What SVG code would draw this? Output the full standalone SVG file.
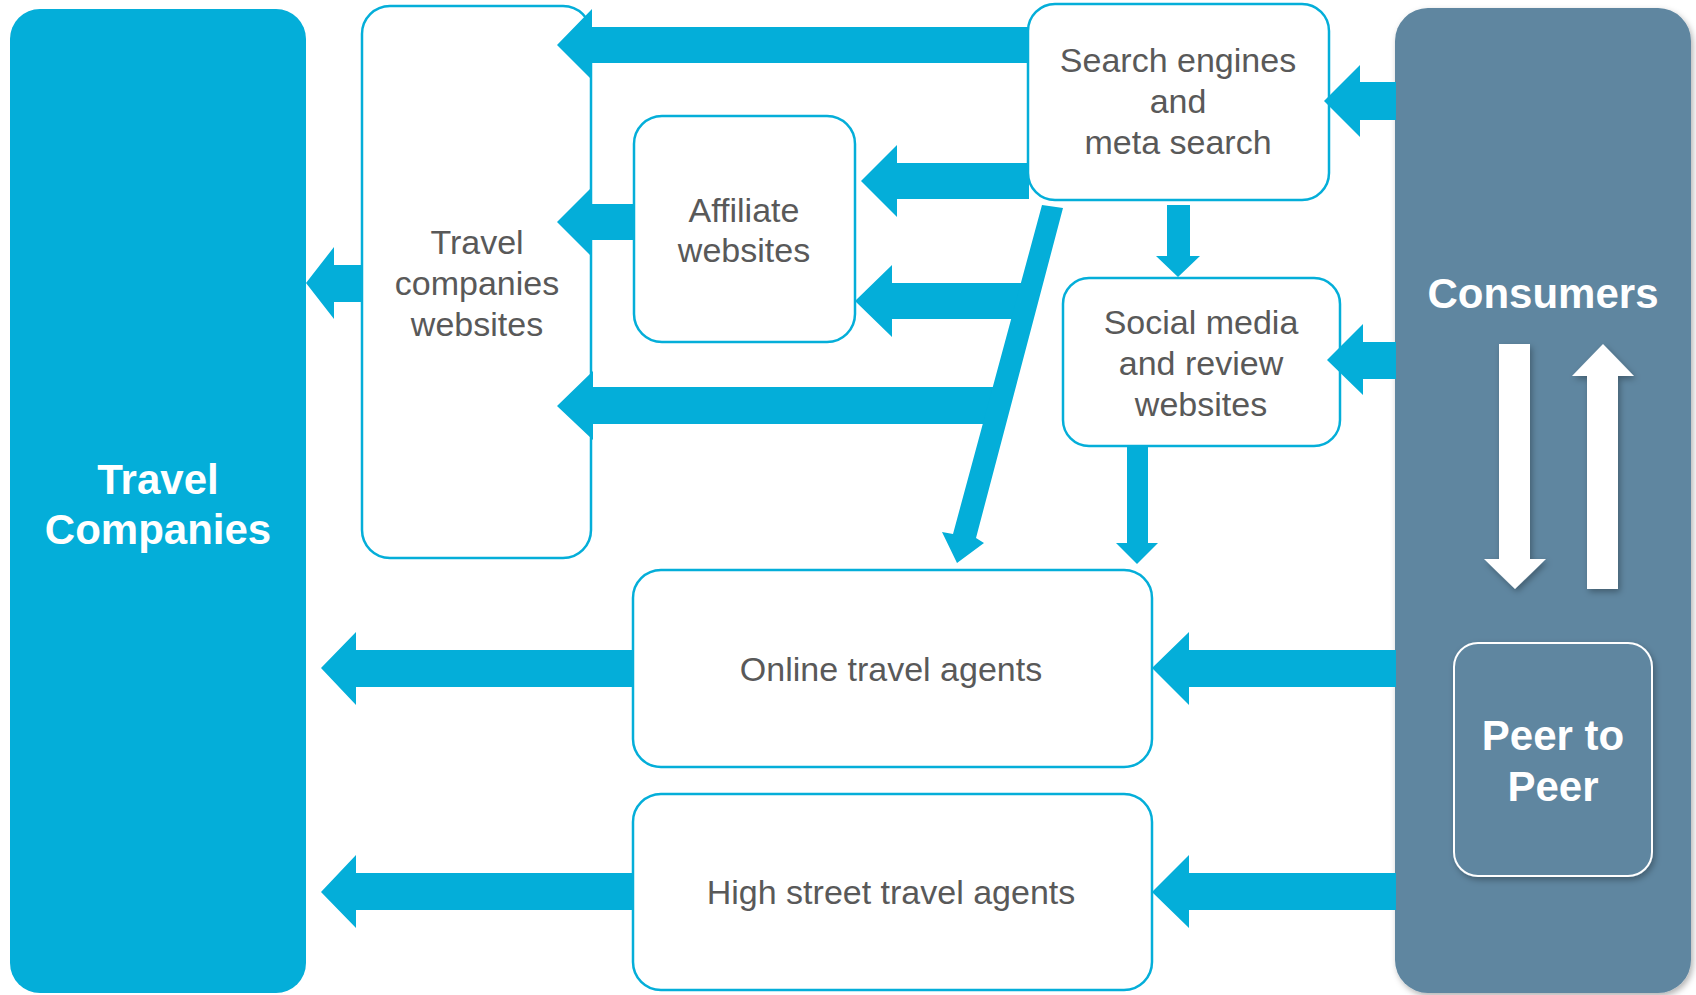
<svg xmlns="http://www.w3.org/2000/svg" width="1696" height="995" viewBox="0 0 1696 995">
  <defs>
    <style>
      .box { fill: #ffffff; stroke: #04AED9; stroke-width: 2.5; }
      .lbl { font-family: "Liberation Sans", Arial, sans-serif; font-size: 34px; fill: #595959; text-anchor: middle; }
      .big { font-family: "Liberation Sans", Arial, sans-serif; font-size: 42px; font-weight: bold; fill: #ffffff; text-anchor: middle; }
      .flow { fill: #04AED9; }
      .white { fill: #ffffff; }
    </style>
    <filter id="shadow" x="-10%" y="-10%" width="125%" height="125%">
      <feDropShadow dx="2" dy="3" stdDeviation="3" flood-color="#000000" flood-opacity="0.3"/>
    </filter>
  </defs>

  <rect width="1696" height="995" fill="#ffffff"/>

  <!-- Travel Companies column -->
  <g id="travel-companies">
    <rect x="10" y="9" width="296" height="984" rx="30" fill="#04AED9"/>
    <text class="big" x="158" y="494">Travel</text>
    <text class="big" x="158" y="544">Companies</text>
  </g>

  <!-- Consumers column -->
  <g id="consumers">
    <rect x="1395" y="8" width="296" height="985" rx="33" fill="#5E86A0" filter="url(#shadow)"/>
    <text class="big" x="1543" y="308">Consumers</text>
    <!-- two-way exchange between consumers and peers -->
    <polygon class="white" filter="url(#shadow)" points="1499,344 1530,344 1530,559 1546,559 1515,589 1484,559 1499,559"/>
    <polygon class="white" filter="url(#shadow)" points="1587,589 1618,589 1618,376 1634,376 1603,344 1572,376 1587,376"/>
  </g>

  <g id="peer-to-peer">
    <rect x="1454" y="643" width="198" height="233" rx="24" fill="#5E86A0" stroke="#ffffff" stroke-width="2" filter="url(#shadow)"/>
    <text class="big" x="1553" y="750">Peer to</text>
    <text class="big" x="1553" y="801">Peer</text>
  </g>

  <g id="travel-companies-websites">
    <rect class="box" x="362" y="6" width="229" height="552" rx="28"/>
    <text class="lbl" x="477" y="254">Travel</text>
    <text class="lbl" x="477" y="295">companies</text>
    <text class="lbl" x="477" y="336">websites</text>
  </g>

  <g id="affiliate-websites">
    <rect class="box" x="634" y="116" width="221" height="226" rx="28"/>
    <text class="lbl" x="744" y="222">Affiliate</text>
    <text class="lbl" x="744" y="262">websites</text>
  </g>

  <g id="search-engines">
    <rect class="box" x="1028" y="4" width="301" height="196" rx="27"/>
    <text class="lbl" x="1178" y="72">Search engines</text>
    <text class="lbl" x="1178" y="113">and</text>
    <text class="lbl" x="1178" y="154">meta search</text>
  </g>

  <g id="social-media">
    <rect class="box" x="1063" y="278" width="277" height="168" rx="26"/>
    <text class="lbl" x="1201" y="334">Social media</text>
    <text class="lbl" x="1201" y="375">and review</text>
    <text class="lbl" x="1201" y="416">websites</text>
  </g>

  <g id="online-travel-agents">
    <rect class="box" x="633" y="570" width="519" height="197" rx="28"/>
    <text class="lbl" x="891" y="681">Online travel agents</text>
  </g>

  <g id="high-street-travel-agents">
    <rect class="box" x="633" y="794" width="519" height="196" rx="28"/>
    <text class="lbl" x="891" y="904">High street travel agents</text>
  </g>

  <!-- Connectors: block arrows -->
  <g id="connectors">
    <!-- websites to travel companies -->
    <polygon class="flow" points="362,265 334,265 334,247 306,283 334,319 334,302 362,302"/>
    <!-- search engines to travel companies websites -->
    <polygon class="flow" points="1028,27 592,27 592,9 557,45 592,80 592,63 1028,63"/>
    <!-- affiliate to travel companies websites -->
    <polygon class="flow" points="635,204 592,204 592,187 557,222 592,257 592,240 635,240"/>
    <!-- search engines to affiliate -->
    <polygon class="flow" points="1029,163 897,163 897,145 861,181 897,217 897,199 1029,199"/>
    <!-- diagonal feed to affiliate -->
    <polygon class="flow" points="1027,283 892,283 892,265 855,301 892,337 892,319 1022,319"/>
    <!-- diagonal feed to travel companies websites -->
    <polygon class="flow" points="1000,387 593,387 593,371 557,406 593,440 593,424 990,424"/>
    <!-- diagonal from search engines to online travel agents -->
    <polygon class="flow" points="1042,205 1063,208 976,538 984,543 957,563 942,532 953,534"/>
    <!-- search engines to social media -->
    <polygon class="flow" points="1167,205 1190,205 1190,256 1200,256 1178,277 1156,256 1167,256"/>
    <!-- social media to online travel agents -->
    <polygon class="flow" points="1127,447 1148,447 1148,543 1158,543 1137,564 1116,543 1127,543"/>
    <!-- agents to travel companies -->
    <polygon class="flow" points="633,650 356,650 356,632 321,668 356,705 356,687 633,687"/>
    <polygon class="flow" points="633,873 356,873 356,855 321,892 356,928 356,910 633,910"/>
    <!-- consumers to agents -->
    <polygon class="flow" points="1396,650 1189,650 1189,632 1152,668 1189,705 1189,687 1396,687"/>
    <polygon class="flow" points="1396,873 1189,873 1189,855 1152,892 1189,928 1189,910 1396,910"/>
    <!-- consumers to search engines and social media -->
    <polygon class="flow" points="1396,82 1360,82 1360,65 1324,101 1360,137 1360,120 1396,120"/>
    <polygon class="flow" points="1396,342 1363,342 1363,324 1327,360 1363,395 1363,379 1396,379"/>
  </g>
</svg>
